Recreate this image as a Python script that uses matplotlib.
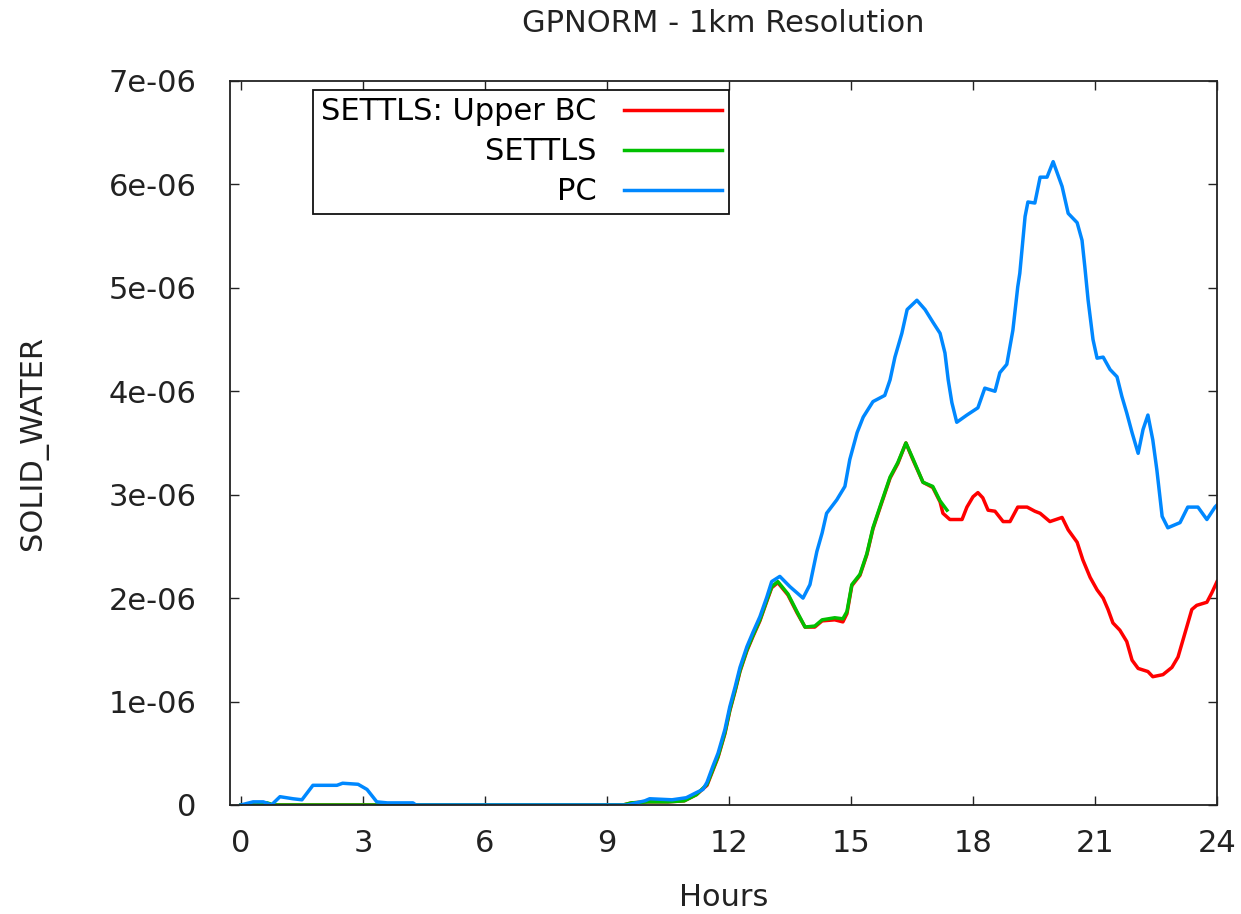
import matplotlib
matplotlib.use('Agg')
import matplotlib.pyplot as plt
from matplotlib.ticker import FuncFormatter, MultipleLocator

# hours since start of the run
hours_pc = [0, 0.3, 0.55, 0.75, 0.96, 1.28, 1.5, 1.77, 2.36, 2.5, 2.88, 3.1, 3.34, 3.6,
            4.23, 4.3, 9.5, 9.93, 10.05, 10.6, 10.95, 11.2, 11.36, 11.46, 11.6, 11.73,
            11.9, 12.02, 12.15, 12.27, 12.44, 12.59, 12.76, 12.93, 13.05, 13.25, 13.5,
            13.82, 13.99, 14.16, 14.29, 14.4, 14.65, 14.85, 14.97, 15.15, 15.3, 15.54,
            15.83, 15.96, 16.08, 16.25, 16.38, 16.62, 16.82, 17.01, 17.19, 17.31, 17.39,
            17.48, 17.6, 17.85, 18.12, 18.29, 18.54, 18.66, 18.83, 18.98, 19.1, 19.15,
            19.28, 19.35, 19.52, 19.65, 19.82, 19.97, 20.19, 20.34, 20.56, 20.68, 20.75,
            20.83, 20.95, 21.05, 21.2, 21.37, 21.54, 21.66, 21.78, 21.91, 22.06, 22.18,
            22.3, 22.42, 22.52, 22.65, 22.79, 23.09, 23.28, 23.53, 23.75, 23.95, 24]
# solid water, units of 1e-6
pc = [0, 0.03, 0.03, 0.0, 0.08, 0.06, 0.05, 0.19, 0.19, 0.21, 0.2, 0.15, 0.03, 0.02,
      0.02, 0.0, 0.0, 0.04, 0.06, 0.05, 0.07, 0.12, 0.15, 0.22, 0.37, 0.5,
      0.73, 0.95, 1.14, 1.33, 1.53, 1.67, 1.82, 2.01, 2.16, 2.21, 2.11,
      2.0, 2.13, 2.45, 2.63, 2.82, 2.95, 3.08, 3.34, 3.6, 3.75, 3.9,
      3.96, 4.11, 4.33, 4.56, 4.79, 4.88, 4.79, 4.67, 4.56, 4.37, 4.11,
      3.89, 3.7, 3.77, 3.84, 4.03, 4.0, 4.18, 4.26, 4.59, 5.01, 5.14,
      5.69, 5.83, 5.82, 6.07, 6.07, 6.22, 5.98, 5.72, 5.63, 5.46, 5.2,
      4.88, 4.5, 4.32, 4.33, 4.21, 4.14, 3.95, 3.79, 3.6, 3.4, 3.63,
      3.77, 3.53, 3.24, 2.79, 2.68, 2.73, 2.88, 2.88, 2.76, 2.88, 2.9]

hours_ubc = [0, 9.4, 9.6, 10.0, 10.5, 10.9, 11.2, 11.46, 11.6, 11.73, 11.9, 12.02, 12.15,
             12.27, 12.44, 12.59, 12.76, 12.93, 13.05, 13.2, 13.45, 13.67, 13.87, 14.11,
             14.29, 14.6, 14.8, 14.9, 15.02, 15.22, 15.39, 15.54, 15.71, 15.96, 16.15,
             16.35, 16.52, 16.77, 17.01, 17.19, 17.26, 17.43, 17.73, 17.85, 18.0, 18.12,
             18.24, 18.37, 18.54, 18.74, 18.91, 19.1, 19.33, 19.52, 19.65, 19.89, 20.19,
             20.34, 20.56, 20.7, 20.88, 21.05, 21.2, 21.32, 21.44, 21.61, 21.78, 21.91,
             22.06, 22.3, 22.42, 22.67, 22.89, 23.04, 23.21, 23.38, 23.5, 23.75, 23.87, 24]
upper_bc = [0, 0, 0.02, 0.03, 0.03, 0.04, 0.1, 0.19, 0.33, 0.46, 0.69, 0.91, 1.1,
            1.29, 1.49, 1.63, 1.78, 1.97, 2.1, 2.15, 2.03, 1.86, 1.72, 1.72,
            1.78, 1.79, 1.77, 1.85, 2.12, 2.22, 2.42, 2.67, 2.87, 3.16, 3.3,
            3.5, 3.34, 3.12, 3.07, 2.93, 2.82, 2.76, 2.76, 2.88, 2.98, 3.02,
            2.97, 2.85, 2.84, 2.74, 2.74, 2.88, 2.88, 2.84, 2.82, 2.74, 2.78,
            2.66, 2.54, 2.37, 2.2, 2.08, 2.0, 1.89, 1.76, 1.69, 1.58, 1.4,
            1.32, 1.29, 1.24, 1.26, 1.33, 1.43, 1.66, 1.89, 1.93, 1.96, 2.05, 2.16]

hours_settls = [0, 0.4, 0.5, 0.65, 0.8, 9.4, 9.6, 10.0, 10.5, 10.9, 11.2, 11.46, 11.6,
                11.73, 11.9, 12.02, 12.15, 12.27, 12.44, 12.59, 12.76, 12.93, 13.05,
                13.2, 13.45, 13.67, 13.87, 14.11, 14.29, 14.6, 14.8, 14.9, 15.02, 15.22,
                15.39, 15.54, 15.71, 15.96, 16.15, 16.35, 16.52, 16.77, 17.01, 17.19, 17.36]
settls = [0, 0, 0.02, 0.02, 0, 0, 0.02, 0.03, 0.03, 0.04, 0.1, 0.2, 0.34,
          0.47, 0.7, 0.92, 1.11, 1.3, 1.5, 1.64, 1.79, 1.98,  2.11,
          2.16, 2.04, 1.87, 1.72, 1.73, 1.79, 1.81, 1.8, 1.87, 2.13, 2.23,
          2.43, 2.68, 2.88, 3.17, 3.31, 3.5, 3.35, 3.12, 3.08, 2.94, 2.85]

scale = 1e-6

fig, ax = plt.subplots(figsize=(12.41, 9.14), dpi=100)
fig.subplots_adjust(left=0.1853, right=0.9807, bottom=0.1193, top=0.9114)

ax.plot(hours_ubc, [v * scale for v in upper_bc], color='#ff0000', lw=2.5,
        label='SETTLS: Upper BC')
ax.plot(hours_settls, [v * scale for v in settls], color='#00c000', lw=2.5,
        label='SETTLS')
ax.plot(hours_pc, [v * scale for v in pc], color='#0088ff', lw=2.5, label='PC')

ax.set_xlim(-0.27, 24)
ax.set_ylim(0, 7e-6)
ax.xaxis.set_major_locator(MultipleLocator(3))
ax.yaxis.set_major_locator(MultipleLocator(1e-6))
ax.yaxis.set_major_formatter(FuncFormatter(lambda v, p: '%g' % v))

fs = 22
ax.tick_params(direction='in', length=6.5, width=1, top=True, right=True,
               labelsize=fs, colors='#222222')
ax.tick_params(axis='x', pad=17)
ax.tick_params(axis='y', pad=24)
for s in ax.spines.values():
    s.set_linewidth(1.3)
    s.set_color('#222222')

ax.set_title('GPNORM - 1km Resolution', fontsize=fs, pad=35, color='#222222')
ax.set_xlabel('Hours', fontsize=fs, labelpad=18, color='#222222')
ax.set_ylabel('SOLID_WATER', fontsize=fs, labelpad=44, color='#222222')

leg = ax.legend(loc='upper right', bbox_to_anchor=(0.506, 0.988), borderaxespad=0,
                fontsize=fs, markerfirst=False, handlelength=3.2, handletextpad=0.9,
                labelspacing=0.36, borderpad=0.25, fancybox=False, framealpha=1)
leg.get_frame().set_edgecolor('#111111')
leg.get_frame().set_linewidth(1.3)

plt.savefig('out.png', dpi=100)
